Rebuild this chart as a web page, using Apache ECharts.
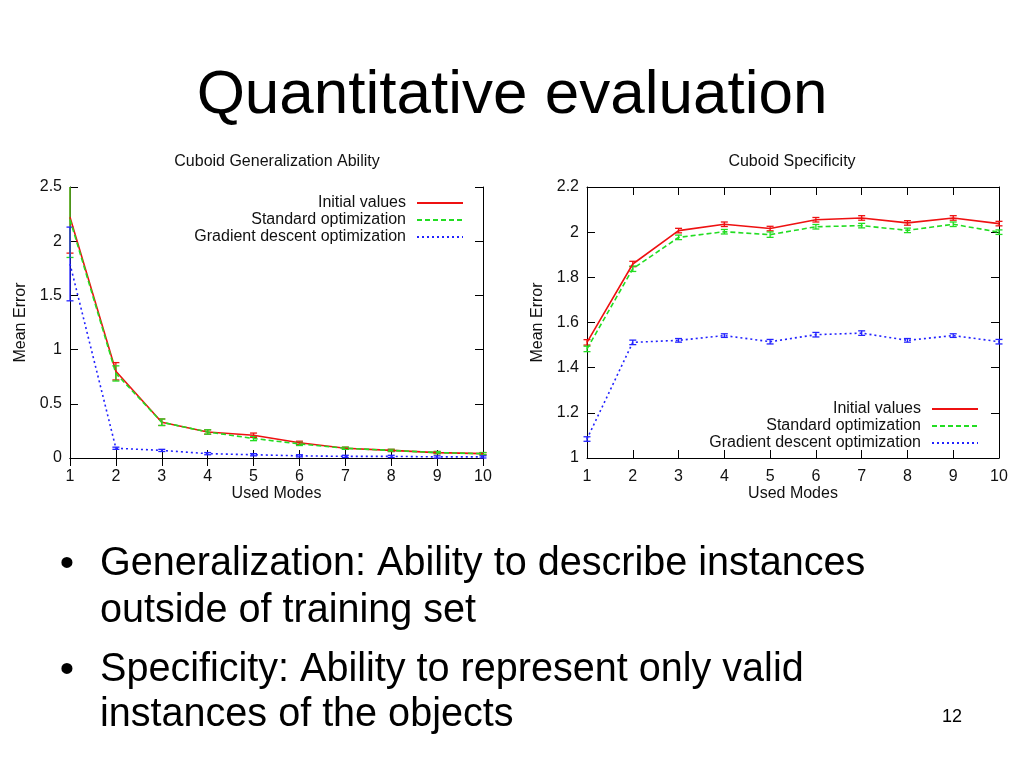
<!DOCTYPE html>
<html>
<head>
<meta charset="utf-8">
<script src="https://cdn.jsdelivr.net/npm/echarts@6/dist/echarts.min.js"></script>
<style>
html,body{margin:0;padding:0;background:#fff;}
#chart{width:1024px;height:768px;}
</style>
</head>
<body>
<div id="chart"></div>
<script>
// ---- data ----
const modes = [1, 2, 3, 4, 5, 6, 7, 8, 9, 10];
const seriesNames = ['Initial values', 'Standard optimization', 'Gradient descent optimization'];

// Cuboid Generalization Ability
const genInitial      = [2.22, 0.80, 0.33, 0.24, 0.21, 0.14, 0.09, 0.07, 0.05, 0.04];
const genInitialErr   = [0.33, 0.08, 0.03, 0.02, 0.02, 0.015, 0.01, 0.01, 0.01, 0.01];
const genStandard     = [2.20, 0.78, 0.33, 0.24, 0.18, 0.13, 0.09, 0.07, 0.05, 0.04];
const genStandardErr  = [0.35, 0.07, 0.03, 0.02, 0.02, 0.015, 0.01, 0.01, 0.01, 0.01];
const genGradient     = [1.79, 0.09, 0.07, 0.04, 0.03, 0.02, 0.015, 0.015, 0.01, 0.01];
const genGradientErr  = [0.34, 0.01, 0.01, 0.01, 0.01, 0.01, 0.01, 0.01, 0.01, 0.01];

// Cuboid Specificity
const specInitial     = [1.512, 1.859, 2.007, 2.035, 2.016, 2.055, 2.063, 2.041, 2.063, 2.038];
const specInitialErr  = [0.012, 0.012, 0.010, 0.010, 0.010, 0.010, 0.010, 0.010, 0.010, 0.010];
const specStandard    = [1.483, 1.838, 1.977, 2.002, 1.989, 2.024, 2.029, 2.008, 2.035, 2.000];
const specStandardErr = [0.012, 0.012, 0.010, 0.010, 0.012, 0.010, 0.010, 0.010, 0.010, 0.010];
const specGradient    = [1.084, 1.512, 1.521, 1.542, 1.515, 1.546, 1.553, 1.521, 1.542, 1.515];
const specGradientErr = [0.010, 0.010, 0.008, 0.008, 0.010, 0.010, 0.010, 0.008, 0.008, 0.010];

const genYTicks = { min: 0, max: 2.5, interval: 0.5 };
const specYTicks = { min: 1, max: 2.2, interval: 0.2 };

const slideTitle = 'Quantitative evaluation';
const chartTitles = ['Cuboid Generalization Ability', 'Cuboid Specificity'];
const xName = 'Used Modes';
const yName = 'Mean Error';
const bullets = [
  ['Generalization: Ability to describe instances', 'outside of training set'],
  ['Specificity: Ability to represent only valid', 'instances of the objects']
];
const pageNumber = '12';

// ---- styles ----
const colors = ['#ee1111', '#22dd22', '#2222ff'];
const dashes = ['solid', [5, 3], [2, 3]];
const FONT = 'Liberation Sans, Arial, sans-serif';

const chart = echarts.init(document.getElementById('chart'), null, { renderer: 'canvas' });

function pairs(vals) { return modes.map((m, i) => [m, vals[i]]); }
function triples(vals, errs) { return modes.map((m, i) => [m, vals[i], errs[i]]); }

function errorRender(color) {
  return function (params, api) {
    const x = api.value(0), v = api.value(1), e = api.value(2);
    const cs = params.coordSys;
    const top = api.coord([x, v + e]);
    const bot = api.coord([x, v - e]);
    const yMin = cs.y, yMax = cs.y + cs.height;
    const y1 = Math.max(yMin, top[1]);
    const y2 = Math.min(yMax, bot[1]);
    const px = top[0];
    const hw = 3.5;
    const st = { stroke: color, lineWidth: 1.3 };
    const children = [{ type: 'line', shape: { x1: px, y1: y1, x2: px, y2: y2 }, style: st }];
    if (top[1] >= yMin - 0.5) children.push({ type: 'line', shape: { x1: px - hw, y1: top[1], x2: px + hw, y2: top[1] }, style: st });
    if (bot[1] <= yMax + 0.5) children.push({ type: 'line', shape: { x1: px - hw, y1: bot[1], x2: px + hw, y2: bot[1] }, style: st });
    return { type: 'group', children: children };
  };
}

function lineSeries(name, vals, idx, axis) {
  return {
    name: name, type: 'line', xAxisIndex: axis, yAxisIndex: axis,
    data: pairs(vals), showSymbol: false, symbol: 'none', silent: true,
    lineStyle: { color: colors[idx], width: 1.6, type: dashes[idx] },
    itemStyle: { color: colors[idx] }, z: 3, animation: false
  };
}
function errSeries(vals, errs, idx, axis) {
  return {
    type: 'custom', xAxisIndex: axis, yAxisIndex: axis, clip: false,
    data: triples(vals, errs), renderItem: errorRender(colors[idx]), z: 2, silent: true, animation: false
  };
}

const axisLineStyle = { lineStyle: { color: '#000', width: 1 } };
const tickStyle = { inside: true, length: 8, lineStyle: { color: '#000', width: 1 } };
const labelStyle = { color: '#111', fontSize: 16, fontFamily: FONT };
const nameStyle = { color: '#111', fontSize: 16, fontFamily: FONT };

function xAxes(grid) {
  return [
    { type: 'value', gridIndex: grid, position: 'bottom', min: 1, max: 10, interval: 1,
      axisLine: axisLineStyle, axisTick: tickStyle, axisLabel: Object.assign({ margin: 11 }, labelStyle),
      splitLine: { show: false }, name: xName, nameLocation: 'middle', nameGap: 27, nameTextStyle: nameStyle },
    { type: 'value', gridIndex: grid, position: 'top', min: 1, max: 10, interval: 1,
      axisLine: axisLineStyle, axisTick: tickStyle, axisLabel: { show: false }, splitLine: { show: false } }
  ];
}
function yAxes(grid, t) {
  return [
    { type: 'value', gridIndex: grid, position: 'left', min: t.min, max: t.max, interval: t.interval,
      axisLine: { show: true, lineStyle: { color: '#000', width: 1 } }, axisTick: Object.assign({ show: true }, tickStyle),
      axisLabel: Object.assign({ margin: 8 }, labelStyle), splitLine: { show: false },
      name: yName, nameLocation: 'middle', nameGap: 41, nameRotate: 90, nameTextStyle: nameStyle },
    { type: 'value', gridIndex: grid, position: 'right', min: t.min, max: t.max, interval: t.interval,
      axisLine: { show: true, lineStyle: { color: '#000', width: 1 } }, axisTick: Object.assign({ show: true }, tickStyle),
      axisLabel: { show: false }, splitLine: { show: false } }
  ];
}

// legend drawn as graphic (gnuplot style: right-aligned text followed by sample line)
function legendGraphic(textRight, lineX1, lineX2, rowYs) {
  const els = [];
  seriesNames.forEach((n, i) => {
    els.push({ type: 'text', x: textRight, y: rowYs[i], silent: true,
      style: { text: n, fill: '#111', font: '16px ' + FONT, textAlign: 'right', textVerticalAlign: 'middle' } });
    els.push({ type: 'line', silent: true, shape: { x1: lineX1, y1: rowYs[i], x2: lineX2, y2: rowYs[i] },
      style: { stroke: colors[i], lineWidth: 1.8, lineDash: dashes[i] === 'solid' ? null : dashes[i] } });
  });
  return els;
}

const graphics = [
  { type: 'text', x: 512, y: 96, silent: true,
    style: { text: slideTitle, fill: '#000', font: '62px ' + FONT, textAlign: 'center', textVerticalAlign: 'middle' } },
  { type: 'text', x: 277, y: 162, silent: true,
    style: { text: chartTitles[0], fill: '#111', font: '16px ' + FONT, textAlign: 'center', textVerticalAlign: 'middle' } },
  { type: 'text', x: 792, y: 162, silent: true,
    style: { text: chartTitles[1], fill: '#111', font: '16px ' + FONT, textAlign: 'center', textVerticalAlign: 'middle' } },
  { type: 'text', x: 952, y: 717, silent: true,
    style: { text: pageNumber, fill: '#000', font: '18px ' + FONT, textAlign: 'center', textVerticalAlign: 'middle' } }
];
const bulletRows = [[564, 611], [670, 715]];
bullets.forEach((b, i) => {
  graphics.push({ type: 'text', x: 67, y: bulletRows[i][0] + 1, silent: true,
    style: { text: '\u2022', fill: '#000', font: '41px ' + FONT, textAlign: 'center', textVerticalAlign: 'middle' } });
  b.forEach((line, j) => {
    graphics.push({ type: 'text', x: 100, y: bulletRows[i][j], scaleX: 0.965, silent: true,
      style: { text: line, fill: '#000', font: '41px ' + FONT, textAlign: 'left', textVerticalAlign: 'middle' } });
  });
});
graphics.push.apply(graphics, legendGraphic(406, 417, 463, [203, 220, 237]));
graphics.push.apply(graphics, legendGraphic(921, 932, 978, [409, 426, 443]));

const option = {
  backgroundColor: '#fff',
  animation: false,
  grid: [
    { left: 70, right: 541, top: 187, bottom: 310 },
    { left: 587, right: 25, top: 187, bottom: 310 }
  ],
  xAxis: xAxes(0).concat(xAxes(1)),
  yAxis: yAxes(0, genYTicks).concat(yAxes(1, specYTicks)),
  series: [
    errSeries(genInitial, genInitialErr, 0, 0),
    errSeries(genStandard, genStandardErr, 1, 0),
    errSeries(genGradient, genGradientErr, 2, 0),
    lineSeries(seriesNames[0], genInitial, 0, 0),
    lineSeries(seriesNames[1], genStandard, 1, 0),
    lineSeries(seriesNames[2], genGradient, 2, 0),
    errSeries(specInitial, specInitialErr, 0, 2),
    errSeries(specStandard, specStandardErr, 1, 2),
    errSeries(specGradient, specGradientErr, 2, 2),
    lineSeries(seriesNames[0], specInitial, 0, 2),
    lineSeries(seriesNames[1], specStandard, 1, 2),
    lineSeries(seriesNames[2], specGradient, 2, 2)
  ],
  graphic: graphics
};
chart.setOption(option);
</script>
</body>
</html>
